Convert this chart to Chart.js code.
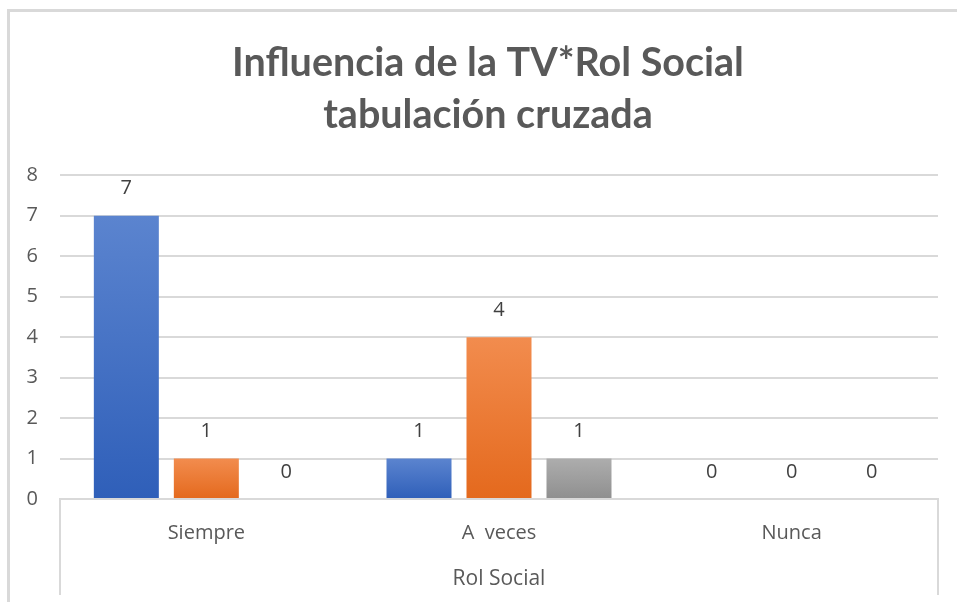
<!DOCTYPE html>
<html>
<head>
<meta charset="utf-8">
<script src="https://cdn.jsdelivr.net/npm/chart.js@4.4.1/dist/chart.umd.min.js"></script>
<style>
    html, body { margin: 0; padding: 0; background: #fff; }
    #wrap { position: relative; width: 957px; height: 602px; overflow: hidden; }
    #frame {
        position: absolute; left: 7px; top: 9px; right: -10px; bottom: -10px;
        border-top: 3px solid #d9d9d9; border-left: 3px solid #d9d9d9;
    }
    #chartCanvas { position: absolute; left: 0; top: 0; }
</style>
</head>
<body>
<div id="wrap">
    <div id="frame"></div>
    <canvas id="chartCanvas" width="957" height="602"></canvas>
</div>
<script>
"use strict";

// data
var categories = ['Siempre', 'A  veces', 'Nunca'];
var seriesNames = ['Serie 1', 'Serie 2', 'Serie 3'];
var serie1 = [7, 1, 0];
var serie2 = [1, 4, 0];
var serie3 = [0, 1, 0];
var yTicks = [0, 1, 2, 3, 4, 5, 6, 7, 8];

var textColor = '#595959';
var gridColor = '#d9d9d9';
var fontFamily = "'Open Sans', 'DejaVu Sans', sans-serif";

// top/bottom colours of each series (Excel-like gradient)
var barColors = [
    ['#5b84cf', '#2f5fb9'],
    ['#f28c4e', '#e4691d'],
    ['#adadad', '#8f8f8f']
];

function barGradient(idx) {
    return function (ctx) {
        var chart = ctx.chart;
        if (!chart.chartArea || ctx.type !== 'data') return barColors[idx][1];
        var yScale = chart.scales.y;
        var top = yScale.getPixelForValue(ctx.raw);
        var base = yScale.getPixelForValue(0);
        if (base - top < 1) return barColors[idx][1];
        var g = chart.ctx.createLinearGradient(0, top, 0, base);
        g.addColorStop(0, barColors[idx][0]);
        g.addColorStop(1, barColors[idx][1]);
        return g;
    };
}

// value labels over bars
var valueLabels = {
    id: 'valueLabels',
    afterDatasetsDraw: function (chart) {
        var ctx = chart.ctx;
        ctx.save();
        ctx.font = '20px ' + fontFamily;
        ctx.fillStyle = '#404040';
        ctx.textAlign = 'center';
        ctx.textBaseline = 'middle';
        chart.data.datasets.forEach(function (ds, i) {
            chart.getDatasetMeta(i).data.forEach(function (bar, j) {
                ctx.fillText(String(ds.data[j]), bar.x, bar.y - 27);
            });
        });
        ctx.restore();
    }
};

// box lines around the category axis area
var categoryBox = {
    id: 'categoryBox',
    afterDraw: function (chart) {
        var a = chart.chartArea;
        var ctx = chart.ctx;
        ctx.save();
        ctx.strokeStyle = gridColor;
        ctx.lineWidth = 2;
        ctx.beginPath();
        ctx.moveTo(a.left, a.bottom);
        ctx.lineTo(a.left, chart.height - 7);
        ctx.moveTo(a.right, a.bottom);
        ctx.lineTo(a.right, chart.height - 7);
        ctx.stroke();
        ctx.restore();
    }
};

var datasets = [serie1, serie2, serie3].map(function (vals, i) {
    return {
        label: seriesNames[i],
        data: vals,
        backgroundColor: barGradient(i),
        borderWidth: 0,
        categoryPercentage: 0.82,
        barPercentage: 0.8125
    };
});

var chart = new Chart(document.getElementById('chartCanvas').getContext('2d'), {
    type: 'bar',
    data: { labels: categories, datasets: datasets },
    plugins: [valueLabels, categoryBox],
    options: {
        responsive: false,
        animation: false,
        layout: { padding: { left: 19, right: 0, top: 0, bottom: 0 } },
        plugins: {
            legend: { display: false },
            tooltip: { enabled: false },
            title: {
                display: true,
                text: ['Influencia de la TV*Rol Social', 'tabulación cruzada'],
                color: textColor,
                font: { family: "Lato, 'Open Sans', sans-serif", size: 39.5, weight: 'bold', lineHeight: 1.32 },
                padding: { top: 37, bottom: 34 }
            }
        },
        scales: {
            x: {
                grid: { display: false },
                border: { display: true, color: gridColor, width: 2 },
                ticks: { color: textColor, font: { family: fontFamily, size: 20 }, padding: 14 },
                title: {
                    display: true,
                    text: 'Rol Social',
                    color: textColor,
                    font: { family: fontFamily, size: 21 },
                    padding: { top: 0, bottom: 10 }
                },
                afterFit: function (scale) { scale.height = 103; }
            },
            y: {
                min: 0,
                max: 8,
                afterBuildTicks: function (scale) {
                    scale.ticks = yTicks.map(function (v) { return { value: v }; });
                },
                grid: { color: gridColor, lineWidth: 2, drawTicks: false },
                border: { display: false },
                ticks: { color: textColor, font: { family: fontFamily, size: 20 }, padding: 22 },
                afterFit: function (scale) { scale.width = 41; }
            },
            // empty right axis, keeps the plot clear of the right edge
            yRight: {
                position: 'right',
                display: true,
                grid: { display: false },
                border: { display: false },
                ticks: { display: false },
                afterFit: function (scale) { scale.width = 19; }
            }
        }
    }
});
</script>
</body>
</html>
